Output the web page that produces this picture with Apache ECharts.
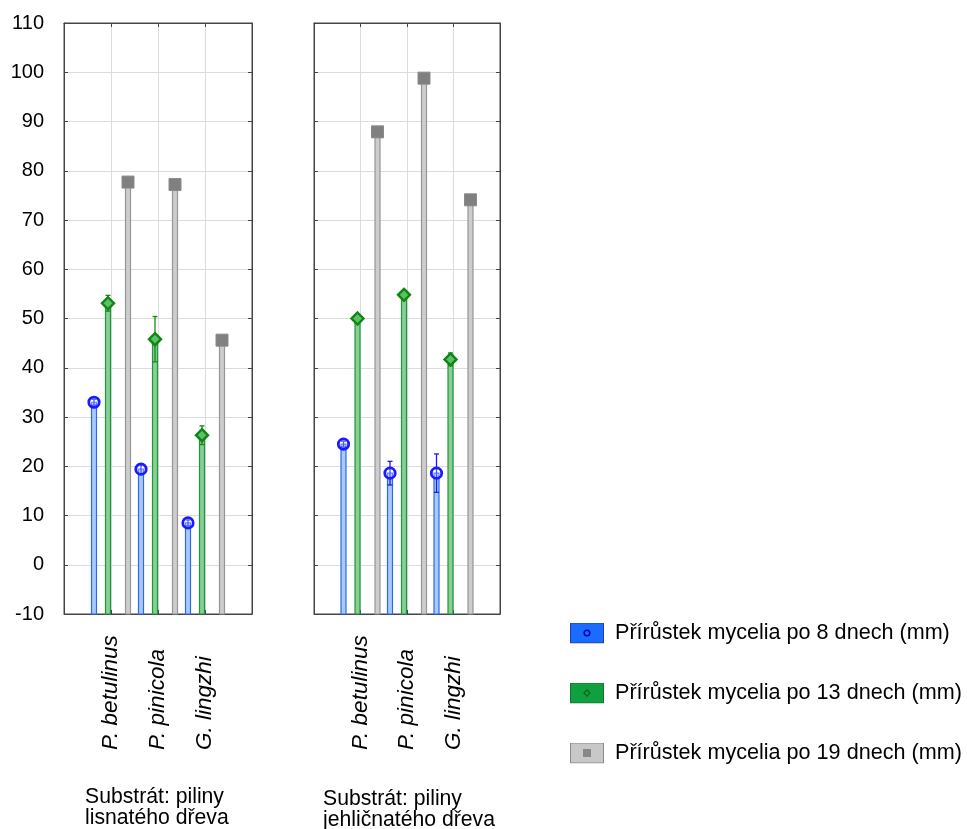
<!DOCTYPE html>
<html><head><meta charset="utf-8">
<script src="https://cdn.jsdelivr.net/npm/echarts@6/dist/echarts.min.js"></script>
<style>html,body{margin:0;padding:0;background:#fff}#c{width:967px;height:829px}</style>
</head><body><div id="c"></div>
<script>
// ---- data ----
const categories = ['P. betulinus', 'P. pinicola', 'G. lingzhi'];
const seriesNames = ['Přírůstek mycelia po 8 dnech (mm)', 'Přírůstek mycelia po 13 dnech (mm)', 'Přírůstek mycelia po 19 dnech (mm)'];
const panelTitles = ['Substrát: piliny\nlisnatého dřeva', 'Substrát: piliny\njehličnatého dřeva'];
const yMin = -10, yMax = 110, yStep = 10;
// panel 1: hardwood sawdust
const hard8 = [33.0, 19.4, 8.5];
const hard13 = [53.1, 45.8, 26.3];
const hard19 = [77.7, 77.2, 45.6];
const hardErr8 = [0.6, 1.0, 0.6];
const hardErr13 = [1.6, 4.6, 1.9];
const hardErr19 = [0, 0, 0];
// panel 2: softwood sawdust
const soft8 = [24.5, 18.6, 18.6];
const soft13 = [50.0, 54.8, 41.7];
const soft19 = [87.9, 98.8, 74.1];
const softErr8 = [0.6, 2.4, 3.9];
const softErr13 = [0.5, 0.6, 1.3];
const softErr19 = [0, 0, 0];

// ---- styles ----
const FONT = '"Liberation Sans", Arial, sans-serif';
const styles = [
  {offset: -17, barFill: '#a9c9fb', barStroke: '#2f6ae6', err: '#1a1aff', marker: 'circle', mStroke: '#1a1aff', mFill: 'none'},
  {offset: -3, barFill: '#86cf95', barStroke: '#22963a', err: '#138a13', marker: 'diamond', mStroke: '#0f860f', mFill: '#5cbf6a'},
  {offset: 17, barFill: '#cdcdcd', barStroke: '#969696', err: '#808080', marker: 'square', mStroke: '#8a8a8a', mFill: '#808080'}
];
const legendColors = ['#1a6cff', '#10a040', '#c4c4c4'];

function makeRender(st) {
  return function (params, api) {
    const c = api.value(0), v = api.value(1), e = api.value(2);
    const top = api.coord([c, v]);
    const base = api.coord([c, yMin]);
    const x = top[0] + st.offset, y = top[1];
    const ch = [{type: 'rect', shape: {x: x - 2.5, y: y, width: 5, height: base[1] - y},
      style: {fill: st.barFill, stroke: st.barStroke, lineWidth: 1.2}}];
    if (e > 0) {
      const hi = api.coord([c, v + e])[1], lo = api.coord([c, v - e])[1];
      ch.push({type: 'line', shape: {x1: x, y1: hi, x2: x, y2: lo}, style: {stroke: st.err, lineWidth: 1.3}});
      ch.push({type: 'line', shape: {x1: x - 2.5, y1: hi, x2: x + 2.5, y2: hi}, style: {stroke: st.err, lineWidth: 1.3}});
      ch.push({type: 'line', shape: {x1: x - 2.5, y1: lo, x2: x + 2.5, y2: lo}, style: {stroke: st.err, lineWidth: 1.3}});
    }
    if (st.marker === 'circle') {
      ch.push({type: 'circle', shape: {cx: x, cy: y, r: 5.2}, style: {fill: 'rgba(255,255,255,0.25)', stroke: st.mStroke, lineWidth: 2.8}});
    } else if (st.marker === 'diamond') {
      ch.push({type: 'polygon', shape: {points: [[x, y - 6], [x + 6, y], [x, y + 6], [x - 6, y]]}, style: {fill: st.mFill, stroke: st.mStroke, lineWidth: 2.4}});
    } else {
      ch.push({type: 'rect', shape: {x: x - 6, y: y - 6, width: 12, height: 12}, style: {fill: st.mFill, stroke: st.mStroke, lineWidth: 1}});
    }
    return {type: 'group', children: ch};
  };
}

const axisCats = [''].concat(categories, ['']);
const panels = [
  {vals: [hard8, hard13, hard19], errs: [hardErr8, hardErr13, hardErr19]},
  {vals: [soft8, soft13, soft19], errs: [softErr8, softErr13, softErr19]}
];
const grids = [
  {left: 64, top: 23, width: 188, height: 591},
  {left: 314, top: 23, width: 186, height: 591}
];

const xAxes = [], yAxes = [], series = [];
grids.forEach((g, gi) => {
  xAxes.push({type: 'category', gridIndex: gi, data: axisCats, boundaryGap: false, position: 'bottom',
    axisLine: {show: true, onZero: false, lineStyle: {color: '#444', width: 1}},
    axisTick: {show: true, inside: true, length: 4, lineStyle: {color: '#444'}, interval: 0},
    axisLabel: {show: true, interval: 0, rotate: 90, align: 'left', verticalAlign: 'middle', margin: 136,
      fontStyle: 'italic', fontSize: 22.5, color: '#000', fontFamily: FONT},
    splitLine: {show: true, interval: 0, lineStyle: {color: '#dcdcdc', width: 1}}
  });
  xAxes.push({type: 'category', gridIndex: gi, data: axisCats, boundaryGap: false, position: 'top',
    axisLine: {show: true, onZero: false, lineStyle: {color: '#444', width: 1}},
    axisTick: {show: true, inside: true, length: 4, lineStyle: {color: '#444'}, interval: 0},
    axisLabel: {show: false}, splitLine: {show: false}
  });
  yAxes.push({type: 'value', gridIndex: gi, min: yMin, max: yMax, interval: yStep, position: 'left',
    axisLine: {show: true, onZero: false, lineStyle: {color: '#444', width: 1}},
    axisTick: {show: true, inside: true, length: 4, lineStyle: {color: '#444'}},
    axisLabel: {show: gi === 0, fontSize: 20, color: '#000', margin: 20, fontFamily: FONT},
    splitLine: {show: true, lineStyle: {color: '#dcdcdc', width: 1}}
  });
  yAxes.push({type: 'value', gridIndex: gi, min: yMin, max: yMax, interval: yStep, position: 'right',
    axisLine: {show: true, onZero: false, lineStyle: {color: '#444', width: 1}},
    axisTick: {show: true, inside: true, length: 4, lineStyle: {color: '#444'}},
    axisLabel: {show: false}, splitLine: {show: false}
  });
  panels[gi].vals.forEach((arr, si) => {
    series.push({
      type: 'custom', name: seriesNames[si], xAxisIndex: gi * 2, yAxisIndex: gi * 2,
      itemStyle: {color: legendColors[si]},
      encode: {x: 0, y: 1},
      data: arr.map((v, i) => [i + 1, v, panels[gi].errs[si][i]]),
      renderItem: makeRender(styles[si]), z: 3
    });
  });
});

function svgIcon(fill, stroke, inner) {
  const svg = "<svg xmlns='http://www.w3.org/2000/svg' width='34' height='21'><rect x='0.5' y='0.5' width='33' height='20' fill='" + fill + "' stroke='" + stroke + "'/>" + inner + "</svg>";
  return 'image://data:image/svg+xml;charset=utf-8,' + encodeURIComponent(svg);
}
const legendIcons = [
  svgIcon('#1a6cff', '#1a40b0', "<circle cx='17' cy='10.5' r='2.8' fill='none' stroke='#0000b4' stroke-width='1.6'/>"),
  svgIcon('#10a040', '#0a7a2a', "<polygon points='17,7.5 20,10.5 17,13.5 14,10.5' fill='none' stroke='#0a6a10' stroke-width='1.4'/>"),
  svgIcon('#c8c8c8', '#8a8a8a', "<rect x='13' y='6.5' width='8' height='8' fill='#888'/>")
];

const chart = echarts.init(document.getElementById('c'), null, {renderer: 'canvas'});
chart.setOption({
  animation: false,
  backgroundColor: '#fff',
  grid: grids.map(g => Object.assign({show: true, borderColor: '#444', borderWidth: 1, backgroundColor: '#fff'}, g)),
  xAxis: xAxes,
  yAxis: yAxes,
  legend: {
    orient: 'vertical', left: 570, top: 622, padding: 0,
    itemWidth: 34, itemHeight: 21, itemGap: 38,
    textStyle: {fontSize: 21.6, color: '#000', fontFamily: FONT, padding: [0, 0, 0, 6]},
    data: seriesNames.map((n, i) => ({name: n, icon: legendIcons[i]})),
    selectedMode: false
  },
  title: [
    {text: panelTitles[0], left: 85, top: 787, padding: 0, textStyle: {fontSize: 21.2, fontWeight: 'normal', color: '#000', lineHeight: 21, fontFamily: FONT}},
    {text: panelTitles[1], left: 323, top: 789, padding: 0, textStyle: {fontSize: 21.2, fontWeight: 'normal', color: '#000', lineHeight: 21, fontFamily: FONT}}
  ],
  series: series
});
</script>
</body></html>
